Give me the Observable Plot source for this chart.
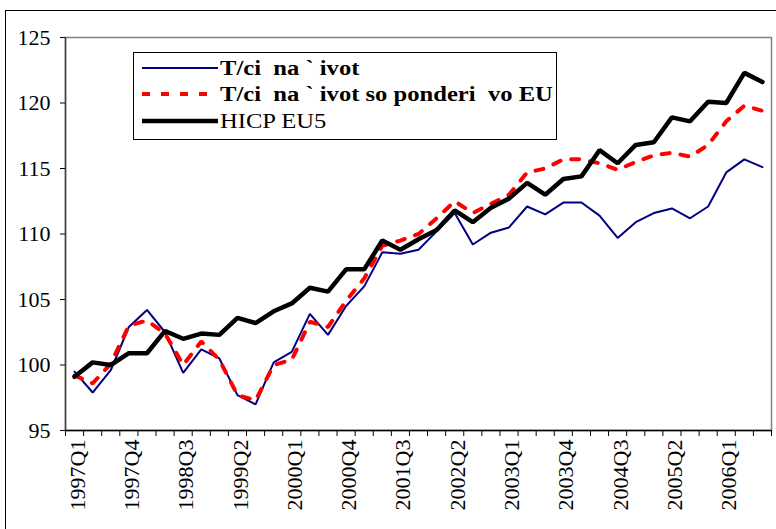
<!DOCTYPE html>
<html>
<head>
<meta charset="utf-8">
<script src="https://cdn.jsdelivr.net/npm/d3@7"></script>
<script src="https://cdn.jsdelivr.net/npm/@observablehq/plot@0.6"></script>
<style>
  body { margin: 0; background: #fff; }
  #wrap { position: relative; width: 776px; height: 529px; overflow: hidden; background: #fff; }
  #outer { position: absolute; left: 5px; top: 10px; width: 820px; height: 620px; border: 1.5px solid #000; box-sizing: border-box; }
  #chart { position: absolute; left: 0; top: 0; }
  #legend { position: absolute; left: 133px; top: 52px; width: 424px; height: 88px; border: 1px solid #000; box-sizing: border-box; background: #fff; font-family: "Liberation Serif", "Times New Roman", serif; }
  .row { position: absolute; left: 0; height: 26px; width: 100%; }
  .row svg { position: absolute; left: 7px; top: 0; }
  .row span { position: absolute; left: 86px; top: 1px; font-size: 20.5px; line-height: 24px; white-space: pre; transform: scaleX(1.2); transform-origin: left center; color: #000; }
</style>
</head>
<body>
<div id="wrap">
  <div id="outer"></div>
  <div id="chart"></div>
  <div id="legend"></div>
</div>
<script>
// ---- data ----
const quarters = [
  "1997Q1","1997Q2","1997Q3","1997Q4",
  "1998Q1","1998Q2","1998Q3","1998Q4",
  "1999Q1","1999Q2","1999Q3","1999Q4",
  "2000Q1","2000Q2","2000Q3","2000Q4",
  "2001Q1","2001Q2","2001Q3","2001Q4",
  "2002Q1","2002Q2","2002Q3","2002Q4",
  "2003Q1","2003Q2","2003Q3","2003Q4",
  "2004Q1","2004Q2","2004Q3","2004Q4",
  "2005Q1","2005Q2","2005Q3","2005Q4",
  "2006Q1","2006Q2","2006Q3"
];
const trosoci = [
  99.5, 97.9, 99.6, 102.9,
  104.2, 102.5, 99.4, 101.2,
  100.5, 97.7, 97.0, 100.2,
  101.0, 103.9, 102.3, 104.5,
  106.0, 108.6, 108.5, 108.8,
  110.2, 111.6, 109.2, 110.1,
  110.5, 112.1, 111.5, 112.4,
  112.4, 111.4, 109.7, 110.9,
  111.6, 111.95, 111.2, 112.1,
  114.7, 115.7, 115.1
];
const trosociEU = [
  99.2, 98.6, 100.1, 103.0,
  103.4, 102.4, 100.0, 101.8,
  100.4, 97.7, 97.3, 100.0,
  100.4, 103.3, 102.9, 104.9,
  106.6, 109.1, 109.5, 110.0,
  111.2, 112.5, 111.6, 112.3,
  113.0, 114.7, 115.0, 115.7,
  115.7, 115.4, 114.9, 115.5,
  116.0, 116.2, 115.9, 116.8,
  118.6, 119.8, 119.4
];
const hicp = [
  99.1, 100.2, 100.0, 100.9,
  100.9, 102.6, 102.0, 102.4,
  102.3, 103.6, 103.2, 104.1,
  104.7, 105.9, 105.6, 107.3,
  107.3, 109.5, 108.8, 109.6,
  110.3, 111.8, 110.9, 112.0,
  112.7, 113.9, 113.0, 114.2,
  114.4, 116.4, 115.4, 116.8,
  117.0, 118.9, 118.6, 120.1,
  120.0, 122.3, 121.6
];
const yTicks = [95, 100, 105, 110, 115, 120, 125];
const labelEvery = 3;
const seriesNames = ["T/ci  na ` ivot", "T/ci  na ` ivot so ponderi  vo EU", "HICP EU5"];

// ---- build ----
const idx = quarters.map((q, i) => i);
const labelIdx = idx.filter(i => i % labelEvery === 0);
const boundaries = [...idx.map(i => i - 0.5), quarters.length - 0.5];
const d1 = idx.map(i => ({i, v: trosoci[i]}));
const d2 = idx.map(i => ({i, v: trosociEU[i]}));
const d3 = idx.map(i => ({i, v: hicp[i]}));

const chart = Plot.plot({
  width: 776,
  height: 529,
  marginLeft: 65,
  marginRight: 5,
  marginTop: 37,
  marginBottom: 99,
  style: {fontFamily: "'Liberation Serif', 'Times New Roman', serif", fontSize: "22px", background: "transparent", color: "#000", overflow: "visible"},
  x: {domain: [-0.5, quarters.length - 0.5], axis: null},
  y: {domain: [yTicks[0], yTicks[yTicks.length - 1]], axis: null},
  marks: [
    Plot.frame({stroke: "#808080", strokeWidth: 1.5}),
    Plot.ruleX([boundaries[0]], {stroke: "#404040", strokeWidth: 1.5}),
    Plot.ruleY([yTicks[0]], {stroke: "#000", strokeWidth: 1.5}),
    Plot.axisY({ticks: yTicks, tickSize: 5, tickPadding: 10, fontSize: 22, label: null, tickFormat: d => String(d)}),
    Plot.axisX({ticks: boundaries, tickSize: 6, label: null, tickFormat: () => ""}),
    Plot.axisX({ticks: labelIdx, tickSize: 0, tickPadding: 9, tickRotate: -90, fontSize: 22, label: null, dx: 3, tickFormat: i => quarters[i]}),
    Plot.line(d1, {x: "i", y: "v", stroke: "#000080", strokeWidth: 2, strokeLinejoin: "miter"}),
    Plot.line(d2, {x: "i", y: "v", stroke: "#ff0000", strokeWidth: 4, strokeDasharray: "8,11", strokeLinejoin: "miter"}),
    Plot.line(d3, {x: "i", y: "v", stroke: "#000", strokeWidth: 4.5, strokeLinejoin: "miter"})
  ]
});
document.getElementById("chart").appendChild(chart);

// ---- legend ----
const legendStyles = [
  {stroke: "#000080", width: 2, dash: null, bold: true},
  {stroke: "#ff0000", width: 4, dash: "8,11", bold: true},
  {stroke: "#000", width: 4.5, dash: null, bold: false}
];
const legend = document.getElementById("legend");
const rowTops = [2, 28, 55];
seriesNames.forEach((name, k) => {
  const s = legendStyles[k];
  const row = document.createElement("div");
  row.className = "row";
  row.style.top = rowTops[k] + "px";
  row.innerHTML = `<svg width="80" height="26"><line x1="1" x2="77" y1="13" y2="13" stroke="${s.stroke}" stroke-width="${s.width}" ${s.dash ? `stroke-dasharray="${s.dash}"` : ""}/></svg>`;
  const span = document.createElement("span");
  span.textContent = name;
  span.style.fontWeight = s.bold ? "bold" : "normal";
  row.appendChild(span);
  legend.appendChild(row);
});
</script>
</body>
</html>
